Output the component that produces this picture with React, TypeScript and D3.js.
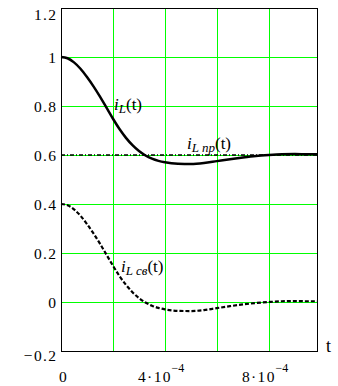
import React from "react";
import * as d3 from "d3";

// time in units of 1e-4 s
const tValues = [0, 0.25, 0.5, 0.75, 1.0, 1.25, 1.5, 1.75, 2.0, 2.25, 2.5, 2.75, 3.0, 3.25, 3.5, 3.75, 4.0, 4.5, 5.0, 5.5, 6.0, 6.5, 7.0, 7.5, 8.0, 8.5, 9.0, 9.5, 9.85];
const iLce = [0.4, 0.395, 0.378, 0.352, 0.318, 0.28, 0.238, 0.193, 0.148, 0.106, 0.07, 0.04, 0.016, -0.002, -0.015, -0.024, -0.03, -0.036, -0.037, -0.033, -0.025, -0.017, -0.01, -0.004, 0.0, 0.003, 0.004, 0.003, 0.003];
const iL = [1.0, 0.995, 0.978, 0.952, 0.918, 0.88, 0.838, 0.793, 0.748, 0.706, 0.67, 0.64, 0.616, 0.598, 0.585, 0.576, 0.57, 0.564, 0.563, 0.567, 0.575, 0.583, 0.59, 0.596, 0.6, 0.603, 0.604, 0.603, 0.603];
const iLnp = [0.6, 0.6];
const iLnpT = [0, 9.85];

const yTicks = [-0.2, 0, 0.2, 0.4, 0.6, 0.8, 1.0, 1.2];
const yTickLabels = ["\u22120.2", "0", "0.2", "0.4", "0.6", "0.8", "1", "1.2"];
const xGrid = [2, 4, 6, 8];
const xTickVals = [4, 8];
const xTickBase = ["4\u00B710", "8\u00B710"];
const xTickExp = "\u22124";

const FONT = "Liberation Serif";

export default function App() {
  const x = d3.scaleLinear().domain([0, 9.85]).range([61, 317]);
  const y = d3.scaleLinear().domain([-0.2, 1.2]).range([351, 8]);
  const left = x(0), right = x(9.85), top = y(1.2), bottom = y(-0.2);

  const line = d3
    .line<number>()
    .x((_, i) => x(tValues[i]))
    .y((d) => y(d))
    .curve(d3.curveMonotoneX);
  const lineNp = d3
    .line<number>()
    .x((_, i) => x(iLnpT[i]))
    .y((d) => y(d));

  const px = (v: number) => Math.round(v) + 0.5;
  const ts = { fontFamily: FONT } as React.CSSProperties;
  const tick = { fontFamily: FONT, letterSpacing: "1.4px" } as React.CSSProperties;

  return (
    <svg
      width={338}
      height={386}
      style={{ position: "absolute", left: 0, top: 0, background: "#fff" }}
    >
      <rect x={0} y={0} width={338} height={386} fill="#fff" />
      {/* grid */}
      {xGrid.map((g) => (
        <line key={"gx" + g} x1={px(x(g))} x2={px(x(g))} y1={top} y2={bottom} stroke="#00ff00" strokeWidth={1} shapeRendering="crispEdges" />
      ))}
      {yTicks.slice(1, -1).map((g) => (
        <line key={"gy" + g} x1={left} x2={right} y1={px(y(g))} y2={px(y(g))} stroke="#00ff00" strokeWidth={1} shapeRendering="crispEdges" />
      ))}
      {/* frame */}
      <rect x={px(left)} y={px(top)} width={Math.round(right - left)} height={Math.round(bottom - top)} fill="none" stroke="#000" strokeWidth={1} shapeRendering="crispEdges" />

      {/* curves */}
      <path d={lineNp(iLnp) || ""} fill="none" stroke="#000" strokeWidth={1.5} strokeDasharray="4,2,1,2" />
      <path d={line(iLce) || ""} fill="none" stroke="#000" strokeWidth={2.2} strokeDasharray="4,2" />
      <path d={line(iL) || ""} fill="none" stroke="#000" strokeWidth={2.5} />

      {/* y tick labels */}
      {yTicks.map((v, i) => {
        let by = y(v) + 6;
        if (i === yTicks.length - 1) by = y(v) + 12;
        if (i === 0) by = y(v) + 10;
        return (
          <text key={"yl" + i} x={57.5} y={by} fontSize={15.5} textAnchor="end" fill="#000" style={tick}>
            {yTickLabels[i]}
          </text>
        );
      })}

      {/* x tick labels */}
      <text x={x(0) + 2.7} y={382} fontSize={15.5} textAnchor="middle" fill="#000" style={tick}>0</text>
      {xTickVals.map((v, i) => (
        <g key={"xl" + v}>
          <text x={x(v) + 7} y={382} fontSize={15.5} textAnchor="end" fill="#000" style={tick}>{xTickBase[i]}</text>
          <text x={x(v) + 6.5} y={372} fontSize={12} textAnchor="start" fill="#000" style={ts}>{xTickExp}</text>
        </g>
      ))}
      <text x={328.5} y={352} fontSize={18} textAnchor="middle" fill="#000" style={ts}>t</text>

      {/* curve labels */}
      <text x={114} y={110} fontSize={17} fill="#000" style={ts}>
        <tspan fontStyle="italic">i</tspan>
        <tspan fontStyle="italic" fontSize={13} dy={3}>L</tspan>
        <tspan dy={-3}>(t)</tspan>
      </text>
      <text x={187} y={149} fontSize={17} fill="#000" style={ts}>
        <tspan fontStyle="italic">i</tspan>
        <tspan fontStyle="italic" fontSize={13} dy={3}>{"L пр"}</tspan>
        <tspan dy={-3}>(t)</tspan>
      </text>
      <text x={121} y={272} fontSize={17} fill="#000" style={ts}>
        <tspan fontStyle="italic">i</tspan>
        <tspan fontStyle="italic" fontSize={13} dy={3}>{"L св"}</tspan>
        <tspan dy={-3}>(t)</tspan>
      </text>
    </svg>
  );
}
